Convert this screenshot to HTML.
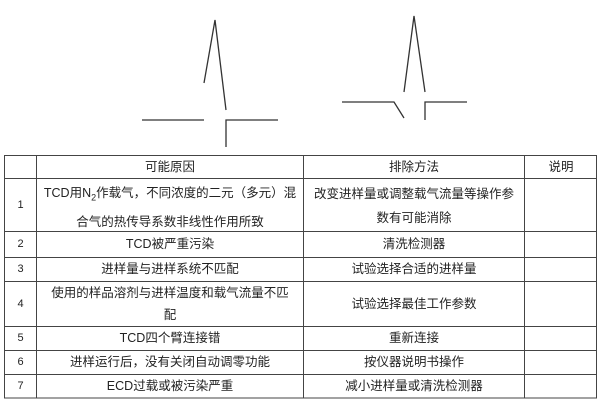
<!DOCTYPE html>
<html><head><meta charset="utf-8"><style>
body{margin:0;width:600px;height:403px;background:#fff;position:relative;overflow:hidden;font-family:"Liberation Sans","Noto Sans CJK SC",sans-serif;color:#222}
svg{position:absolute;left:0;top:0}
.t{position:absolute;font-size:12.5px;text-align:center;line-height:22px}
</style></head><body>
<svg width="600" height="403">
<g stroke="#333" stroke-width="1.3" fill="none">
<polyline points="204,83 215,20 226,110"/>
<line x1="142" y1="120" x2="204" y2="120"/>
<polyline points="226,147 226,120 278,120"/>
<polyline points="404,92 414,16 425,92"/>
<polyline points="342,102 394,102 404,118"/>
<polyline points="425,120 425,102 467,102"/>
</g>
<g stroke="#444" stroke-width="1" fill="none">
<rect x="4.5" y="155.5" width="592" height="242.5"/>
<line x1="36.5" y1="155" x2="36.5" y2="398"/>
<line x1="303.5" y1="155" x2="303.5" y2="398"/>
<line x1="524.5" y1="155" x2="524.5" y2="398"/>
<line x1="4" y1="178.5" x2="597" y2="178.5"/>
<line x1="4" y1="231.5" x2="597" y2="231.5"/>
<line x1="4" y1="257.5" x2="597" y2="257.5"/>
<line x1="4" y1="281.5" x2="597" y2="281.5"/>
<line x1="4" y1="326.5" x2="597" y2="326.5"/>
<line x1="4" y1="350.5" x2="597" y2="350.5"/>
<line x1="4" y1="374.5" x2="597" y2="374.5"/>
</g>
</svg>
<div class="t" style="left:37px;width:266px;top:156px">可能原因</div>
<div class="t" style="left:304px;width:220px;top:156px">排除方法</div>
<div class="t" style="left:525px;width:72px;top:156px">说明</div>
<div class="t" style="left:5px;width:31px;top:194px;font-size:11px">1</div>
<div class="t" style="left:37px;width:266px;top:181px;line-height:24px">TCD用N<sub style="font-size:9px">2</sub>作载气，不同浓度的二元（多元）混<br>合气的热传导系数非线性作用所致</div>
<div class="t" style="left:304px;width:220px;top:182px;line-height:24px">改变进样量或调整载气流量等操作参<br>数有可能消除</div>
<div class="t" style="left:5px;width:31px;top:233px;font-size:11px">2</div>
<div class="t" style="left:37px;width:266px;top:233px">TCD被严重污染</div>
<div class="t" style="left:304px;width:220px;top:233px">清洗检测器</div>
<div class="t" style="left:5px;width:31px;top:258px;font-size:11px">3</div>
<div class="t" style="left:37px;width:266px;top:258px">进样量与进样系统不匹配</div>
<div class="t" style="left:304px;width:220px;top:258px">试验选择合适的进样量</div>
<div class="t" style="left:5px;width:31px;top:293px;font-size:11px">4</div>
<div class="t" style="left:37px;width:266px;top:282px">使用的样品溶剂与进样温度和载气流量不匹<br>配</div>
<div class="t" style="left:304px;width:220px;top:293px">试验选择最佳工作参数</div>
<div class="t" style="left:5px;width:31px;top:327px;font-size:11px">5</div>
<div class="t" style="left:37px;width:266px;top:327px">TCD四个臂连接错</div>
<div class="t" style="left:304px;width:220px;top:327px">重新连接</div>
<div class="t" style="left:5px;width:31px;top:351px;font-size:11px">6</div>
<div class="t" style="left:37px;width:266px;top:351px">进样运行后，没有关闭自动调零功能</div>
<div class="t" style="left:304px;width:220px;top:351px">按仪器说明书操作</div>
<div class="t" style="left:5px;width:31px;top:375px;font-size:11px">7</div>
<div class="t" style="left:37px;width:266px;top:375px">ECD过载或被污染严重</div>
<div class="t" style="left:304px;width:220px;top:375px">减小进样量或清洗检测器</div>
</body></html>
